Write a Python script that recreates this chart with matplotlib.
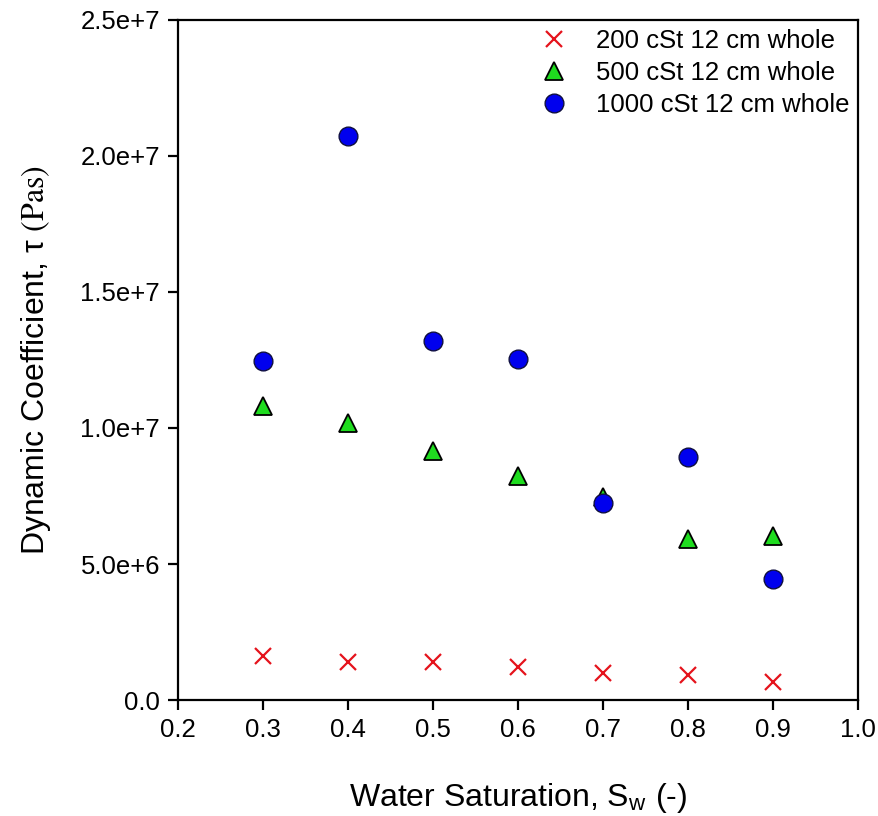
import matplotlib
matplotlib.use('Agg')
import matplotlib.pyplot as plt

# water saturation values
sw = [0.3, 0.4, 0.5, 0.6, 0.7, 0.8, 0.9]

# dynamic coefficient (Pa s) for each oil viscosity
tau_200 = [1.62e6, 1.40e6, 1.40e6, 1.22e6, 0.99e6, 0.92e6, 0.66e6]
tau_500 = [10.8e6, 10.18e6, 9.15e6, 8.24e6, 7.46e6, 5.92e6, 6.03e6]
tau_1000 = [12.46e6, 20.74e6, 13.2e6, 12.54e6, 7.24e6, 8.93e6, 4.45e6]

labels = ['200 cSt 12 cm whole', '500 cSt 12 cm whole', '1000 cSt 12 cm whole']
x_ticks = [0.2, 0.3, 0.4, 0.5, 0.6, 0.7, 0.8, 0.9, 1.0]
y_ticks = [0, 5e6, 1e7, 1.5e7, 2e7, 2.5e7]
y_tick_labels = ['0.0', '5.0e+6', '1.0e+7', '1.5e+7', '2.0e+7', '2.5e+7']

plt.rcParams['font.family'] = ['Liberation Sans', 'DejaVu Sans']
plt.rcParams['mathtext.fontset'] = 'stix'

fig = plt.figure(figsize=(8.79, 8.16), dpi=100)
ax = fig.add_axes([178 / 879, 1 - 700 / 816, 680 / 879, 680 / 816])

ax.plot(sw, tau_200, linestyle='none', marker='x', markersize=11, markeredgewidth=1.6,
		color='#e5131c', label=labels[0])
ax.plot(sw, tau_500, linestyle='none', marker='^', markersize=13, markerfacecolor='#1fdc1f',
		markeredgecolor='black', markeredgewidth=1.3, label=labels[1])
ax.plot(sw, tau_1000, linestyle='none', marker='o', markersize=13.5, markerfacecolor='#0000ee',
		markeredgecolor='#101040', markeredgewidth=1.0, label=labels[2])

ax.set_xlim(0.2, 1.0)
ax.set_ylim(0, 2.5e7)
ax.set_xticks(x_ticks)
ax.set_xticklabels(['%.1f' % v for v in x_ticks])
ax.set_yticks(y_ticks)
ax.set_yticklabels(y_tick_labels)

for s in ax.spines.values():
	s.set_linewidth(1.6)
ax.tick_params(direction='out', length=7, width=1.6, labelsize=18.5, pad=6)

ax.set_xlabel(r'Water Saturation, S$_\mathregular{w}$ (-)', fontsize=23, labelpad=28)
ax.set_ylabel(r'Dynamic Coefficient, τ $\mathrm{(Pas)}$', fontsize=23, labelpad=20)

ax.legend(loc='upper right', bbox_to_anchor=(1.0, 1.0), frameon=False, fontsize=18.5,
		  handletextpad=0.6, labelspacing=0.32, borderaxespad=0.15, borderpad=0.2)

fig.savefig('out.png', dpi=100)
